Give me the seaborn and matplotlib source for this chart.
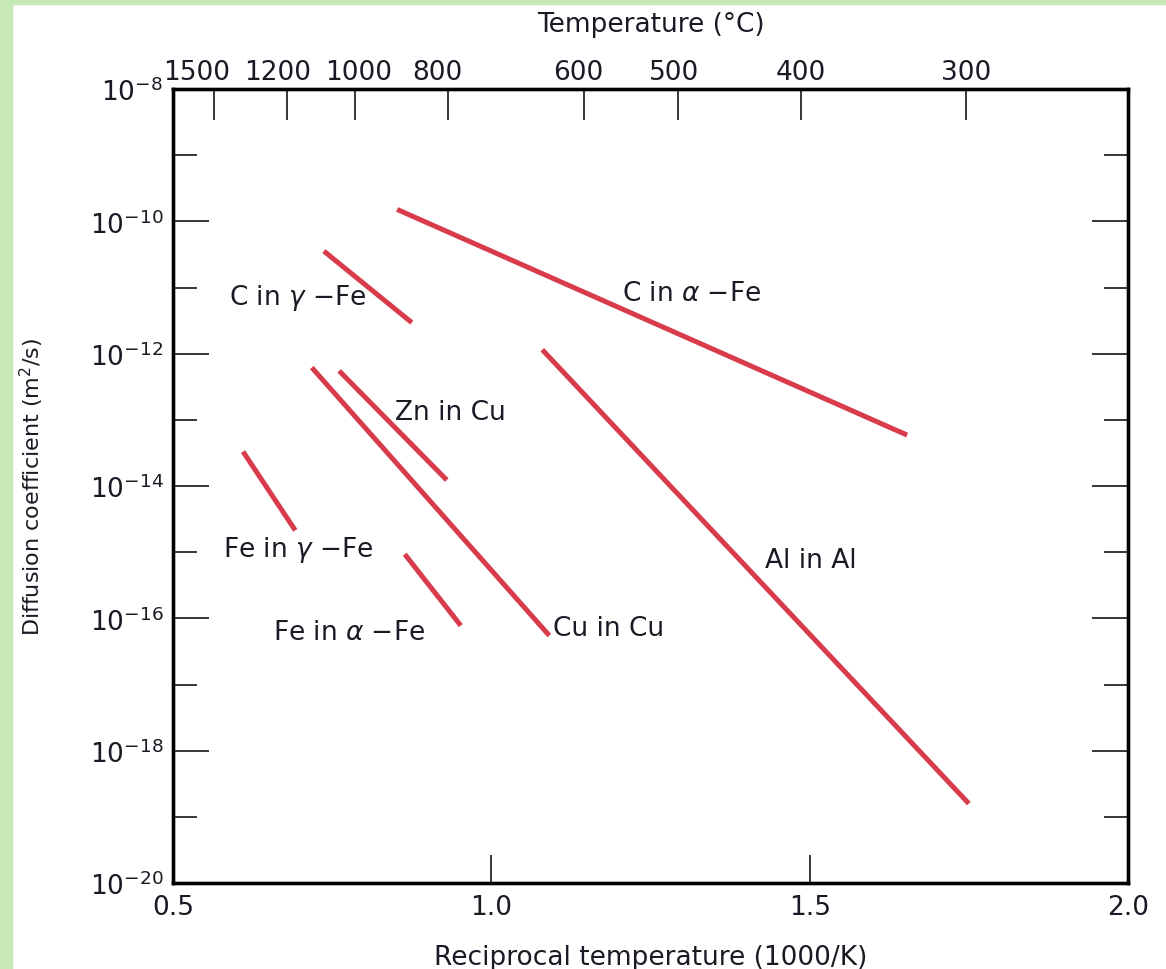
import numpy as np
import pandas as pd
import matplotlib
matplotlib.use("Agg")
import matplotlib.pyplot as plt
import matplotlib.transforms as mtransforms
import seaborn as sns
from matplotlib.patches import Rectangle
from matplotlib.ticker import FixedLocator, NullFormatter

# ---------------- data ----------------
series = ["C in a-Fe", "C in g-Fe", "Zn in Cu", "Cu in Cu", "Al in Al", "Fe in g-Fe", "Fe in a-Fe"]
x_start = [0.852, 0.737, 0.761, 0.718, 1.080, 0.610, 0.864]
x_end = [1.653, 0.875, 0.930, 1.091, 1.750, 0.692, 0.952]
logD_start = [-9.82, -10.45, -12.26, -12.21, -11.94, -13.48, -15.03]
logD_end = [-13.23, -11.53, -13.91, -16.26, -18.80, -14.67, -16.11]

label_text = [r"C in $\alpha$ $-$Fe", r"C in $\gamma$ $-$Fe", "Zn in Cu", "Cu in Cu",
              "Al in Al", r"Fe in $\gamma$ $-$Fe", r"Fe in $\alpha$ $-$Fe"]
label_x = [1.205, 0.588, 0.849, 1.097, 1.430, 0.579, 0.657]
label_logD = [-11.08, -11.15, -12.88, -16.15, -15.12, -14.95, -16.21]

temp_c_ticks = [1500, 1200, 1000, 800, 600, 500, 400, 300]
bottom_ticks = [0.5, 1.0, 1.5, 2.0]
bottom_labels = ["0.5", "1.0", "1.5", "2.0"]
y_major_exp = [-8, -10, -12, -14, -16, -18, -20]
y_minor_exp = [-9, -11, -13, -15, -17, -19]

# ---------------- style ----------------
sns.set_style("white")
plt.rcParams["font.family"] = ["DejaVu Sans"]
plt.rcParams["mathtext.fontset"] = "dejavusans"
RED = "#d83c4c"
TXT = "#1a1a24"
GREEN = "#c6e9b6"
FS = 19

rows = []
for s, x0, x1, y0, y1 in zip(series, x_start, x_end, logD_start, logD_end):
    rows.append({"series": s, "x": x0, "D": 10.0 ** y0})
    rows.append({"series": s, "x": x1, "D": 10.0 ** y1})
df = pd.DataFrame(rows)

fig = plt.figure(figsize=(11.66, 9.70), dpi=100)
fig.patch.set_facecolor("white")
fig.add_artist(Rectangle((0, 0), 12 / 1166, 1, transform=fig.transFigure,
                         color=GREEN, zorder=0))
fig.add_artist(Rectangle((0, 1 - 5 / 970), 1, 5 / 970, transform=fig.transFigure,
                         color=GREEN, zorder=0))

ax = fig.add_axes([173 / 1166, 1 - 884 / 970, (1128 - 173) / 1166, (884 - 90) / 970])
ax.set_facecolor("white")

sns.lineplot(data=df, x="x", y="D", units="series", estimator=None, sort=False,
             color=RED, lw=3.6, legend=False, ax=ax, solid_capstyle="butt")

ax.set_yscale("log")
ax.set_xlim(0.5, 2.0)
ax.set_ylim(1e-20, 1e-8)

ax.set_yticks([10.0 ** e for e in y_major_exp])
ax.set_yticklabels([r"$10^{%d}$" % e for e in y_major_exp])
ax.yaxis.set_minor_locator(FixedLocator([10.0 ** e for e in y_minor_exp]))
ax.yaxis.set_minor_formatter(NullFormatter())
ax.tick_params(axis="y", which="major", direction="in", length=26, width=1.1,
               left=True, right=True, labelsize=FS, labelcolor=TXT, pad=7, color="black")
ax.tick_params(axis="y", which="minor", direction="in", length=17, width=1.1,
               left=True, right=True, color="black")

ax.set_xticks(bottom_ticks)
ax.set_xticklabels(bottom_labels)
ax.tick_params(axis="x", which="both", direction="in", length=20, width=1.1,
               bottom=True, top=False, labelsize=FS, labelcolor=TXT, pad=8, color="black")

for sp in ax.spines.values():
    sp.set_visible(True)
    sp.set_linewidth(2.4)
    sp.set_color("black")

ax.set_xlabel("Reciprocal temperature (1000/K)", fontsize=FS, color=TXT, labelpad=17)
ax.set_ylabel(r"Diffusion coefficient (m$^2$/s)", fontsize=16, color=TXT)
ax.yaxis.set_label_coords(-0.133, 0.5)

for t, xx, yy in zip(label_text, label_x, label_logD):
    ax.text(xx, 10.0 ** yy, t, fontsize=FS, color=TXT, ha="left", va="center")

ax2 = ax.twiny()
ax2.set_xlim(ax.get_xlim())
ax2.set_xticks([1000.0 / (t + 273.0) for t in temp_c_ticks])
ax2.set_xticklabels([str(t) for t in temp_c_ticks])
ax2.tick_params(axis="x", direction="in", length=22, width=1.1, labelsize=FS,
                labelcolor=TXT, pad=3, color="black")
ax2.set_xlabel("Temperature (\u00b0C)", fontsize=FS, color=TXT, labelpad=20)
for sp in ax2.spines.values():
    sp.set_linewidth(2.4)
    sp.set_color("black")

# nudge the crowded top labels horizontally (pixels), as in the reference
shift_px = [-17, -9, 4, -11, -6, -4, 0, 0]
for lab, dx in zip(ax2.get_xticklabels(), shift_px):
    lab.set_transform(lab.get_transform() +
                      mtransforms.ScaledTranslation(dx / 100.0, 0, fig.dpi_scale_trans))

fig.savefig("out.png", dpi=100, facecolor=fig.get_facecolor())
